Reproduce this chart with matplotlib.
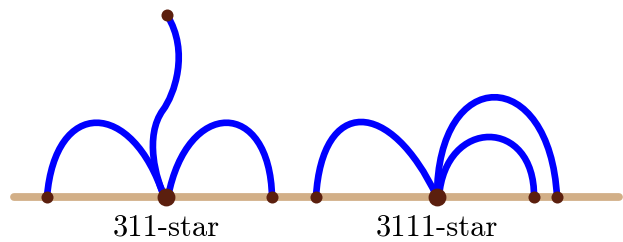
import matplotlib
matplotlib.use("Agg")
import matplotlib.pyplot as plt
from matplotlib.path import Path
from matplotlib.patches import PathPatch

W, H = 623, 242
BASE_Y = 197

# baseline extent
baseline_x = [14, 619]

# small vertices (x, y)
small_nodes = [(47, 197), (272, 197), (167, 15), (316, 197), (534, 197), (557, 197)]
# centre (star) vertices
big_nodes = [(166, 197), (437, 197)]

# arcs: start x, end x, control x1, control x2, control height
arcs = [
    (47, 164, 55, 132, 98),
    (168, 272, 187, 270, 98),
    (316, 437, 322, 390, 97),
    (437, 557, 437, 550, 64),
    (439, 534, 445, 535, 117),
]

# the S-shaped edge to the raised vertex (two cubic segments)
s_curve = [(165, 197), (156, 180), (144, 136), (163, 110),
           (174, 95), (190, 52), (167, 15)]

labels = ["311-star", "3111-star"]
label_x = [166, 437]
label_y = 228

fig = plt.figure(figsize=(W / 100, H / 100), dpi=100)
ax = fig.add_axes([0, 0, 1, 1])
ax.set_xlim(0, W)
ax.set_ylim(H, 0)
ax.axis("off")

blue = "#0000FF"
brown = "#5B1F0E"
tan = "#D2AF87"
lw = 4.8

ax.plot(baseline_x, [BASE_Y, BASE_Y], color=tan, lw=5.6, solid_capstyle="round", zorder=1)

for x0, x1, c1, c2, h in arcs:
    verts = [(x0, BASE_Y), (c1, h), (c2, h), (x1, BASE_Y)]
    codes = [Path.MOVETO, Path.CURVE4, Path.CURVE4, Path.CURVE4]
    ax.add_patch(PathPatch(Path(verts, codes), fill=False, edgecolor=blue,
                           lw=lw, capstyle="round", zorder=2))

codes = [Path.MOVETO] + [Path.CURVE4] * 6
ax.add_patch(PathPatch(Path(s_curve, codes), fill=False, edgecolor=blue,
                       lw=lw, capstyle="round", zorder=2))

ax.scatter([p[0] for p in small_nodes], [p[1] for p in small_nodes],
           s=75, color=brown, zorder=3, linewidths=0)
ax.scatter([p[0] for p in big_nodes], [p[1] for p in big_nodes],
           s=165, color=brown, zorder=3, linewidths=0)

for t, x in zip(labels, label_x):
    ax.text(x, label_y, t, ha="center", va="center", fontsize=22,
            family="cmr10", color="#000000")

fig.savefig("out.png", dpi=100)
